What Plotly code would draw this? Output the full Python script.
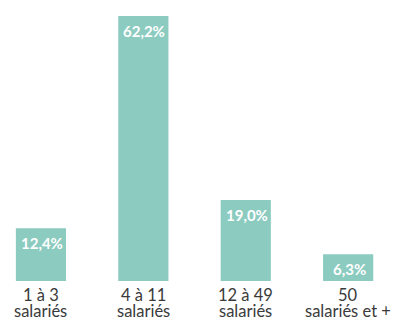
import plotly.graph_objects as go

categories = ["1 à 3\nsalariés", "4 à 11\nsalariés", "12 à 49\nsalariés", "50\nsalariés et +"]
values = [12.4, 62.2, 19.0, 6.3]
value_labels = ["12,4%", "62,2%", "19,0%", "6,3%"]

BAR_COLOR = "#8ccbc0"
TEXT_COLOR = "#3a3a3a"
FONT = "Lato, 'Open Sans', sans-serif"

x_idx = list(range(len(categories)))

fig = go.Figure(
    go.Bar(
        x=x_idx,
        y=values,
        width=0.49,
        marker=dict(color=BAR_COLOR, line=dict(width=0)),
        hoverinfo="skip",
    )
)

# value labels inside the top of each bar
for i, (v, lab) in enumerate(zip(values, value_labels)):
    fig.add_annotation(
        x=i, y=v, xref="x", yref="y",
        text=f"<b>{lab}</b>",
        showarrow=False,
        yanchor="top",
        xanchor="center",
        yshift=-4,
        xshift=1,
        font=dict(family=FONT, size=15, color="white"),
    )

# two-line category labels under the bars, lines set tightly
for i, cat in enumerate(categories):
    lines = cat.split("\n")
    for j, line in enumerate(lines):
        fig.add_annotation(
            x=i, y=0, xref="x", yref="y",
            text=line,
            showarrow=False,
            yanchor="top",
            xanchor="center",
            yshift=-2 - 16 * j,
            font=dict(family=FONT, size=16.5, color=TEXT_COLOR),
        )

fig.update_layout(
    width=397,
    height=320,
    margin=dict(l=0, r=0, t=0, b=39),
    paper_bgcolor="white",
    plot_bgcolor="white",
    showlegend=False,
    xaxis=dict(
        range=[-0.400, 3.477],
        showticklabels=False,
        showgrid=False,
        zeroline=False,
        showline=False,
        ticks="",
        fixedrange=True,
    ),
    yaxis=dict(
        range=[0, 65.96],
        visible=False,
        fixedrange=True,
    ),
)

fig.write_html("out.html")
